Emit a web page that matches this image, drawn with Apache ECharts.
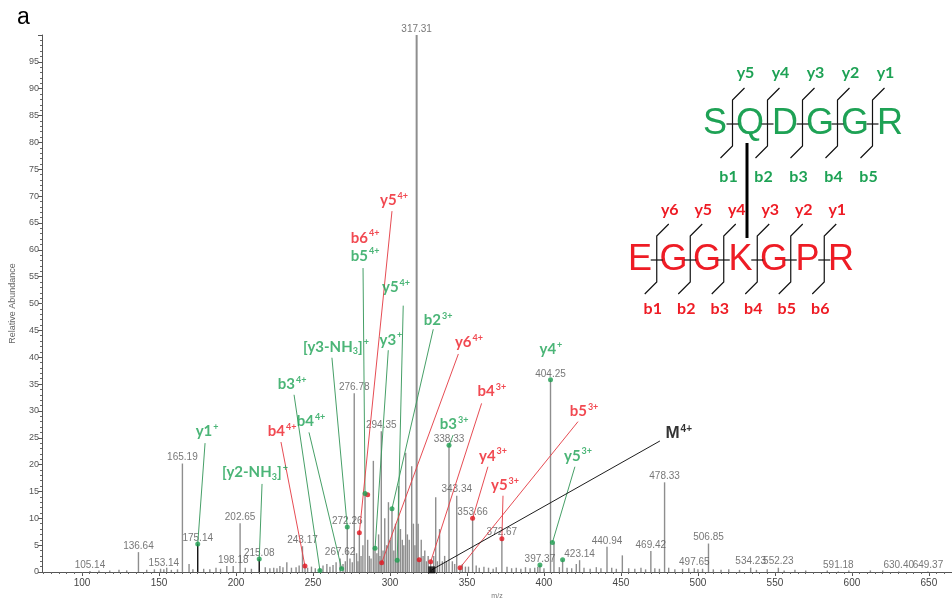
<!DOCTYPE html>
<html><head><meta charset="utf-8">
<script src="https://cdn.jsdelivr.net/npm/echarts@6/dist/echarts.min.js"></script>
<style>html,body{margin:0;padding:0;background:#fff}#c{width:952px;height:605px}</style>
</head><body><div id="c"></div>
<script>
// ---------- axis ----------
const xMin = 74, xMax = 665;
const xTicks = [100,150,200,250,300,350,400,450,500,550,600,650];
const yMax = 100;

// ---------- labelled peaks (m/z, relative abundance) ----------
const labeledMz = [105.14,136.64,153.14,165.19,175.14,198.18,202.65,215.08,243.17,267.62,272.26,276.78,294.35,317.31,338.33,343.34,353.66,372.67,397.37,404.25,423.14,440.94,469.42,478.33,497.65,506.85,534.23,552.23,591.18,630.40,649.37];
const labeledAb = [0.2,3.7,0.5,20.2,5.2,1.1,9.1,2.4,4.8,2.5,8.4,33.3,26.2,100,23.6,14.2,10.0,6.2,1.3,35.8,2.2,4.7,3.9,16.7,0.7,5.3,0.8,0.8,0.1,0.1,0.1];
const blackPeaks = [175.14, 215.08];

// ---------- unlabelled peaks ----------
const otherMz = [111,118,124,129,142,147,151,155,158,162,169.5,172,179,183,187,190,194,206,210,219,222,224.5,226.6,228.5,230.5,233,236,239,241,244.8,246.5,249,251.5,254.5,256.5,259,261,263,265,269.5,271,274,275.5,
 278.3,279.2,280.1,281.2,282.4,283.8,285.5,286.6,287.7,289.2,290.3,291.5,292.6,293.5,295.5,296.6,297.8,299.0,300.2,301.3,302.5,303.6,304.7,305.6,306.8,308.0,309.0,310.2,311.3,312.5,314.1,315.2,316.2,318.3,319.0,320.3,321.5,322.6,323.7,324.8,326.4,327.1,328.4,329.7,330.8,332.2,334.0,335.5,336.7,340.5,342.0,345.5,347,349,351,356,358,361,364,367,369,376,379,382,385,388,391,394,396,400,406.5,410,412.1,415,418,421,426,430,434,437,444,447,450.9,455,459,463,466,472,475,481,485,490,494,500,503,510,515,520,527,538,545,556,563,570,584,598,612,620,640,655];
const otherAb = [0.3,0.3,0.4,0.3,0.4,0.5,0.6,0.8,0.4,0.5,1.5,0.5,0.6,0.5,0.8,0.6,1.1,0.8,0.6,0.9,0.7,0.8,0.7,1.1,0.9,1.8,0.8,0.9,1.2,1.1,0.8,1.0,0.7,0.4,1.2,1.5,1.0,1.3,1.8,1.5,2.0,2.5,1.8,
 3.5,2.0,7.3,3.0,5.0,14.6,6.0,3.0,2.5,20.7,4.4,3.5,7.0,3.0,4.0,10.0,5.0,13.0,6.0,11.8,4.0,9.0,2.2,16.0,8.0,6.0,5.0,22.2,7.0,6.0,19.7,9.0,5.0,9.0,2.3,6.0,3.0,4.0,2.0,3.0,1.9,0.4,3.0,13.9,2.0,8.0,2.0,3.0,2.0,2.0,1.5,0.8,1.5,1.0,1.0,1.2,0.8,1.0,0.8,0.6,0.9,1.0,0.7,0.8,0.6,0.9,0.7,0.8,1.0,0.7,5.5,0.9,2.3,0.8,0.7,1.5,0.8,0.6,0.9,0.7,0.8,0.6,3.1,0.7,0.6,0.8,0.5,0.7,0.6,0.8,0.5,0.6,0.7,0.5,0.6,0.5,0.4,0.5,0.4,0.4,0.5,0.3,0.4,0.3,0.3,0.3,0.3,0.3];

// ---------- fragment annotations ----------
const annText  = ['y1^+','[y2-NH_3]^+','b4^4+','b3^4+','b4^4+','[y3-NH_3]^+','b6^4+','b5^4+','y5^4+','y5^4+','y3^+','b2^3+','y6^4+','b4^3+','b3^3+','y4^+','b5^3+','y4^3+','y5^3+','y5^3+','M^4+'];
const annColor = ['g','g','r','g','g','g','r','g','r','g','g','g','r','r','g','g','r','r','r','g','k'];
const annLabel = [[181.2,26.2],[212.3,18.6],[229.9,26.2],[236.4,34.9],[248.7,28.0],[264.9,41.9],[283.8,62.2],[283.8,58.9],[302.6,69.2],[303.9,53.0],[300.6,43.2],[331.2,46.9],[351.3,42.8],[366.2,33.6],[341.6,27.5],[404.5,41.5],[426.0,29.9],[366.9,21.6],[374.7,16.1],[422.1,21.6],[487.5,25.8]];
const annFrom  = [[179.9,24.0],[216.9,16.4],[229.2,24.2],[237.7,33.0],[247.4,26.0],[262.3,39.9],null,[282.5,56.6],[301.3,67.2],[308.6,49.6],[298.9,41.3],[328.1,45.2],[344.4,40.6],[359.5,31.4],[341.0,25.5],null,[422.1,28.0],[363.6,19.6],[373.4,14.2],[420.1,19.6],[475.3,24.4]];
const annDot   = [[175.14,5.2],[215.08,2.4],[244.8,1.1],[254.5,0.3],[268.6,0.6],[272.26,8.4],[285.5,14.4],[283.8,14.6],[280.1,7.3],[304.7,2.2],[290.3,4.4],[301.3,11.8],[294.6,1.7],[326.4,1.9],[338.33,23.6],[404.25,35.8],[345.5,0.8],[353.66,10.0],[372.67,6.2],[405.5,5.5],[327.1,0.4]];
const extraDotPos = [[397.37,1.3],[412.1,2.3],[319.0,2.3]];
const extraDotColor = ['g','g','r'];

// ---------- peptide diagram ----------
const pepTop = ['S','Q','D','G','G','R'];
const pepTopY = ['y5','y4','y3','y2','y1'];
const pepTopB = ['b1','b2','b3','b4','b5'];
const pepBot = ['E','G','G','K','G','P','R'];
const pepBotY = ['y6','y5','y4','y3','y2','y1'];
const pepBotB = ['b1','b2','b3','b4','b5','b6'];

const COL = {g:'#1ea255', r:'#ee1c25', k:'#000000'};
const LINECOL = {g:'#3c9a5f', r:'#e5424a', k:'#111111'};

function richText(s, c){
  const parts = s.split('^');
  let main = parts[0], sup = parts[1];
  let out = '';
  const segs = main.split(/_(\d)/);
  segs.forEach((t,i)=>{ if(!t) return; out += (i%2===1) ? '{'+c+'sub|'+t+'}' : '{'+c+'n|'+t+'}'; });
  if (sup) out += '{'+c+'s|'+sup+'}';
  return out;
}
const rich = {};
['g','r','k'].forEach(c=>{
  const big = c==='k';
  const fam = big ? 'Liberation Sans' : 'Lato';
  rich[c+'n'] = {fontSize:big?17:15, fontWeight:'bold', color:COL[c], fontFamily:fam, lineHeight:18};
  rich[c+'s'] = {fontSize:big?10:9, fontWeight:'bold', color:COL[c], fontFamily:fam, verticalAlign:'top', lineHeight:18, padding:[0,0,0,1]};
  rich[c+'sub'] = {fontSize:9, fontWeight:'bold', color:COL[c], fontFamily:fam, verticalAlign:'bottom', lineHeight:14};
});

const minorX = [];
for (let v = 75; v <= 665; v += 5) minorX.push(v);

const peakData = otherMz.map((m,i)=>[m, otherAb[i], 0])
  .concat(labeledMz.map((m,i)=>[m, labeledAb[i], blackPeaks.includes(m)?1:0]));

// ---------- diagram graphics ----------
const graphics = [];
graphics.push({type:'text', left:17, top:6, style:{text:'a', fontSize:23, fontFamily:'Liberation Sans', fill:'#000'}});
function addPeptide(letters, x0, dx, yc, color, yLab, bLab, yLabY, bLabY, fontSize){
  letters.forEach((L,i)=>{
    graphics.push({type:'text', x:x0+i*dx, y:yc, style:{text:L, fontSize:fontSize, fontFamily:'Liberation Sans', fill:color, align:'center', verticalAlign:'middle'}});
  });
  for (let i=0;i<letters.length-1;i++){
    const cx = x0 + i*dx + dx/2;
    graphics.push({type:'line', shape:{x1:cx-6,y1:yc,x2:cx+6,y2:yc}, style:{stroke:'#111', lineWidth:1.2}});
    graphics.push({type:'polyline', shape:{points:[[cx+12,yc-36],[cx,yc-24],[cx,yc+22],[cx-12,yc+34]]}, style:{stroke:'#111', lineWidth:1.2, fill:null}});
    graphics.push({type:'text', x:cx+13, y:yLabY, style:{text:yLab[i], fontSize:16, fontWeight:'bold', fontFamily:'Lato', fill:color, align:'center', verticalAlign:'middle'}});
    graphics.push({type:'text', x:cx-4, y:bLabY, style:{text:bLab[i], fontSize:16, fontWeight:'bold', fontFamily:'Lato', fill:color, align:'center', verticalAlign:'middle'}});
  }
}
addPeptide(pepTop, 715, 35, 124, COL.g, pepTopY, pepTopB, 73, 177, 36);
addPeptide(pepBot, 640, 33.5, 260, COL.r, pepBotY, pepBotB, 210, 309, 36);
graphics.push({type:'line', shape:{x1:747,y1:143,x2:747,y2:238}, style:{stroke:'#000', lineWidth:3}});

const chart = echarts.init(document.getElementById('c'));
chart.setOption({
  animation:false,
  backgroundColor:'#fff',
  grid:{left:42, right:0, top:35, bottom:28, containLabel:false},
  xAxis:[{
    type:'value', min:xMin, max:xMax,
    axisLine:{lineStyle:{color:'#555', width:1}},
    axisTick:{customValues:xTicks, length:4, lineStyle:{color:'#555'}},
    axisLabel:{customValues:xTicks, fontSize:10, color:'#444', margin:6, fontFamily:'Liberation Sans'},
    splitLine:{show:false},
    name:'m/z', nameLocation:'middle', nameGap:21, nameTextStyle:{fontSize:7, color:'#777', fontFamily:'Liberation Sans'}
  },{
    type:'value', min:xMin, max:xMax, position:'bottom',
    axisLine:{show:false}, axisLabel:{show:false}, splitLine:{show:false},
    axisTick:{customValues:minorX, length:2, lineStyle:{color:'#666'}}
  }],
  yAxis:{
    type:'value', min:0, max:yMax, interval:5,
    axisLine:{show:true, lineStyle:{color:'#555'}},
    axisTick:{show:true, length:4, lineStyle:{color:'#555'}},
    minorTick:{show:true, splitNumber:5, length:2, lineStyle:{color:'#666'}},
    axisLabel:{fontSize:9, color:'#555', margin:3, fontFamily:'Liberation Sans', formatter:v=> v===100?'':String(v)},
    splitLine:{show:false},
    name:'Relative Abundance', nameLocation:'middle', nameGap:25, nameRotate:90,
    nameTextStyle:{fontSize:9, color:'#666', fontFamily:'Liberation Sans'}
  },
  graphic:graphics,
  series:[
    {
      type:'custom', xAxisIndex:0, z:2,
      data:peakData,
      renderItem:(params, api)=>{
        const p0 = api.coord([api.value(0), 0]);
        const p1 = api.coord([api.value(0), api.value(1)]);
        const black = api.value(2)===1;
        return {type:'line', shape:{x1:p0[0], y1:p0[1], x2:p1[0], y2:p1[1]},
          style:{stroke: black?'#111':'#8e8e8e', lineWidth: api.value(1)>50?2:1.4}};
      }
    },
    {
      type:'scatter', z:3, symbolSize:0,
      data:labeledMz.map((m,i)=>[m, labeledAb[i]]),
      label:{show:true, position:'top', distance:1, fontSize:10, color:'#555', fontFamily:'Liberation Sans',
        formatter:p=>p.value[0].toFixed(2)}
    },
    {
      type:'lines', coordinateSystem:'cartesian2d', z:4,
      data:annFrom.map((f,i)=> f ? {coords:[f, annDot[i]], lineStyle:{color:LINECOL[annColor[i]], width:1}} : null).filter(Boolean),
      lineStyle:{width:1, opacity:0.95}
    },
    {
      type:'scatter', z:5, symbolSize:5,
      data:annDot.map((d,i)=>({value:d, symbol: annColor[i]==='k'?'rect':'circle', symbolSize: annColor[i]==='k'?7:5, itemStyle:{color:annColor[i]==='r'?'#e0141e':(annColor[i]==='g'?'#1e9e50':'#000')}}))
        .concat(extraDotPos.map((d,i)=>({value:d, itemStyle:{color:extraDotColor[i]==='r'?'#e0141e':'#1e9e50'}})))
    },
    {
      type:'scatter', z:6, symbolSize:1, itemStyle:{color:'rgba(0,0,0,0)'},
      data:annLabel.map((p,i)=>({value:p, name:annText[i], col:annColor[i]})),
      label:{show:true, position:'inside', rich:rich,
        formatter:p=>richText(annText[p.dataIndex], annColor[p.dataIndex])}
    }
  ]
});
</script>
</body></html>
